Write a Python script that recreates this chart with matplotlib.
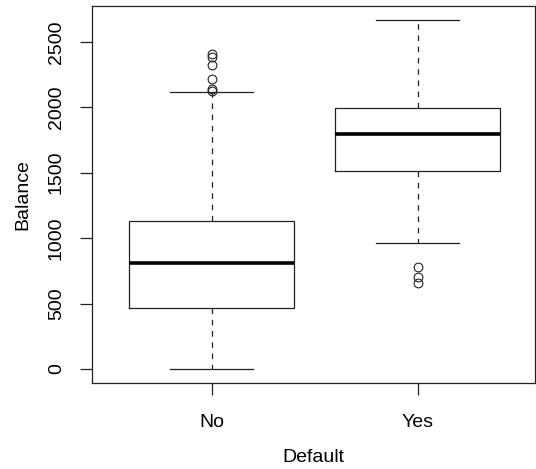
import matplotlib.pyplot as plt

plt.rcParams['font.family'] = ['Liberation Sans', 'DejaVu Sans']

# Balance by default status, five-number summaries plus outliers
groups = ['No', 'Yes']
whisker_low = [0, 961]
q1 = [469, 1516]
median = [808, 1794]
q3 = [1133, 1993]
whisker_high = [2118, 2663]
outliers = [
    [2406, 2380, 2322, 2215, 2139, 2126],
    [781, 705, 655],
]
yticks = [0, 500, 1000, 1500, 2000, 2500]

stats = []
for i, name in enumerate(groups):
    stats.append({
        'label': name,
        'whislo': whisker_low[i],
        'q1': q1[i],
        'med': median[i],
        'q3': q3[i],
        'whishi': whisker_high[i],
        'fliers': outliers[i],
    })

fig = plt.figure(figsize=(5.36, 4.69), dpi=100)
ax = fig.add_axes([92 / 536, 86 / 469, 443 / 536, 376.5 / 469])

ax.bxp(
    stats,
    positions=[1, 2],
    widths=0.8,
    capwidths=0.4,
    boxprops=dict(color='#222222', linewidth=0.9),
    medianprops=dict(color='black', linewidth=2.6, solid_capstyle='butt'),
    whiskerprops=dict(color='#222222', linewidth=0.9, linestyle=(0, (4.5, 4.5))),
    capprops=dict(color='#222222', linewidth=0.9),
    flierprops=dict(marker='o', markersize=6.3, markerfacecolor='none',
                    markeredgecolor='#222222', markeredgewidth=0.8),
)

ax.set_xlim(0.42, 2.57)
ax.set_ylim(-106.5, 2769.5)
ax.set_yticks(yticks)
ax.set_yticklabels([str(v) for v in yticks], rotation=90, va='center')
ax.set_xticks([1, 2])
ax.set_xticklabels(groups)

for s in ax.spines.values():
    s.set_linewidth(0.9)
    s.set_color('#222222')

ax.tick_params(axis='both', length=8.6, width=0.9, color='#222222', labelsize=14)
ax.tick_params(axis='x', pad=13.5)
ax.tick_params(axis='y', pad=11)

ax.set_xlabel('Default', fontsize=14, labelpad=13.5)
ax.set_ylabel('Balance', fontsize=14, labelpad=11.5)

fig.savefig('out.png', dpi=100)
